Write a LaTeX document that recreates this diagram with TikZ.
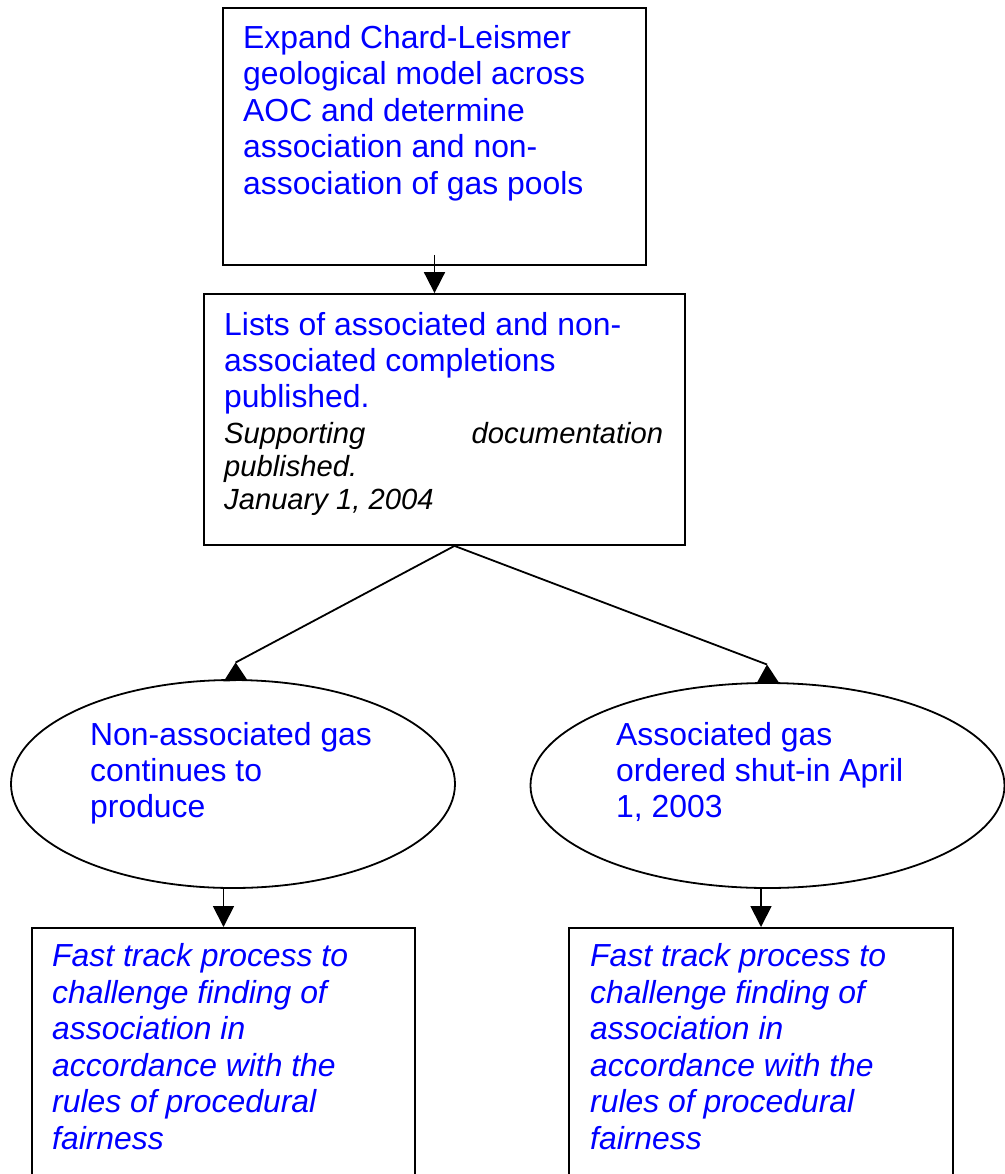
\documentclass[tikz,border=0pt]{standalone}
\usepackage{fontspec}
\setmainfont{Liberation Sans}
\usetikzlibrary{arrows.meta,shapes.geometric}
\definecolor{txtblue}{RGB}{0,0,255}
\begin{document}
\begin{tikzpicture}[x=1bp,y=-1bp,
  box/.style={draw, line width=1.8bp, rectangle, inner sep=0pt},
  oval/.style={draw, line width=1.8bp, ellipse, inner sep=0pt},
  arr/.style={line width=1.8bp, -{Triangle[length=21bp,width=21bp]}},
  conn/.style={line width=1.8bp},
  txt/.style={anchor=base west, inner sep=0pt, text=txtblue, font=\fontsize{32}{36.6}\selectfont},
  itxt/.style={anchor=base west, inner sep=0pt, text=black, font=\fontsize{29.3}{33.2}\selectfont\itshape},
  ibtxt/.style={anchor=base west, inner sep=0pt, text=txtblue, font=\fontsize{32}{36.7}\selectfont\itshape},
]
\useasboundingbox (0,0) rectangle (1005,1174);
\clip (0,0) rectangle (1005,1174);
\fill[white] (0,0) rectangle (1005,1174);

% shapes
\node[box, minimum width=423bp, minimum height=257bp] (top) at (434.5,136.5) {};
\node[box, minimum width=481bp, minimum height=251bp] (mid) at (444.5,419.5) {};
\node[oval, minimum width=444bp, minimum height=208bp] (lell) at (233,784) {};
\node[oval, minimum width=474bp, minimum height=205bp] (rell) at (767.5,785.5) {};
\node[box, minimum width=383bp, minimum height=300bp, anchor=north] (lbox) at (223.5,927) {};
\node[box, minimum width=384bp, minimum height=300bp, anchor=north] (rbox) at (761,927) {};

% texts
\node[txt] (toptext) at (243,48.3) {\parbox[t]{400bp}{Expand Chard-Leismer\\geological model across\\AOC and determine\\association and non-\\association of gas pools}};
\node[txt] (midtext) at (224,335) {\parbox[t]{440bp}{Lists of associated and non-\\associated completions\\published.}};
\node[itxt] (midital) at (224,443.3) {\parbox[t]{439bp}{Supporting\hfill documentation\\published.\\January 1, 2004}};
\node[txt] (ltext) at (90,745) {\parbox[t]{340bp}{Non-associated gas\\continues to\\produce}};
\node[txt] (rtext) at (616,745) {\parbox[t]{370bp}{Associated gas\\ordered shut-in April\\1, 2003}};
\node[ibtxt] (lbtext) at (52,966.7) {\parbox[t]{350bp}{Fast track process to\\challenge finding of\\association in\\accordance with the\\rules of procedural\\fairness}};
\node[ibtxt] (rbtext) at (590,966.7) {\parbox[t]{350bp}{Fast track process to\\challenge finding of\\association in\\accordance with the\\rules of procedural\\fairness}};

% connectors
\draw[arr] ([yshift=11bp]top.south) -- (top.south |- mid.north);
\coordinate (apex) at ([xshift=10bp]mid.south);
\coordinate (ltip) at (235.6,662.5);
\coordinate (rtip) at (767,664.5);
\draw[conn] (apex) -- (ltip);
\fill (ltip) -- ++(-12,19) -- ++(24,-1) -- cycle;
\draw[conn] (apex) -- (rtip);
\fill (rtip) -- ++(-10.5,19) -- ++(23,0) -- cycle;
\draw[arr] (lell.south -| lbox.north) -- (lbox.north);
\draw[arr] (rell.south -| rbox.north) -- (rbox.north);
\end{tikzpicture}
\end{document}
